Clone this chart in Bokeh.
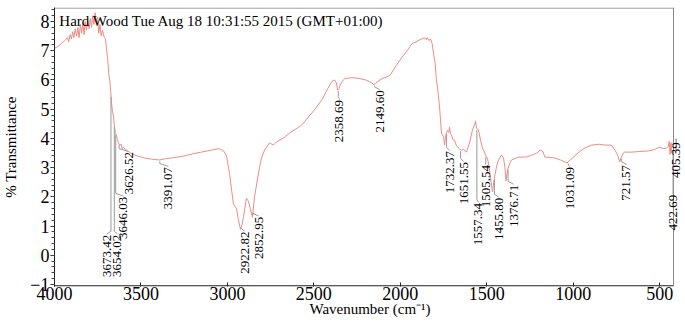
import numpy as np
from bokeh.plotting import figure
from bokeh.models import Range1d, FixedTicker, ColumnDataSource, LabelSet, Label
from bokeh.embed import file_html
from bokeh.resources import INLINE

# ---- spectrum (wavenumber cm-1, % transmittance) ----
wavenumber = [
    4000, 3980, 3960, 3940, 3925, 3918, 3910, 3902, 3895, 3888, 3880, 3872, 3865, 3858,
    3850, 3843, 3836, 3829, 3822, 3815, 3808, 3800, 3793, 3786, 3779, 3772, 3765, 3758,
    3751, 3744, 3737, 3730, 3722, 3712, 3705, 3698, 3692, 3686, 3680, 3675, 3670, 3665,
    3659, 3653, 3648, 3641, 3636, 3630, 3622, 3615, 3608, 3601, 3590, 3580, 3572, 3560,
    3537, 3510, 3479, 3440, 3393, 3360, 3323, 3250, 3200, 3150, 3092, 3050, 3023, 3005,
    2988, 2975, 2965, 2947, 2938, 2925, 2915, 2907, 2890, 2878, 2868, 2855, 2843, 2820,
    2803, 2785, 2757, 2734, 2716, 2676, 2641, 2571, 2550, 2500, 2450, 2420, 2395, 2380,
    2370, 2362, 2355, 2348, 2330, 2319, 2280, 2238, 2200, 2170, 2155, 2145, 2130, 2105,
    2080, 2059, 2030, 1990, 1960, 1932, 1910, 1886, 1870, 1860, 1850, 1845, 1835, 1825,
    1816, 1808, 1799, 1791, 1782, 1773, 1762, 1750, 1744, 1738, 1727, 1720, 1715, 1710,
    1704, 1695, 1687, 1675, 1664, 1655, 1646, 1635, 1617, 1600, 1583, 1571, 1565, 1559,
    1548, 1536, 1525, 1513, 1505, 1495, 1484, 1475, 1467, 1455, 1443, 1432, 1415, 1403,
    1395, 1389, 1380, 1366, 1357, 1316, 1270, 1239, 1210, 1192, 1175, 1164, 1140, 1106,
    1070, 1036, 1000, 967, 930, 892, 850, 817, 779, 759, 745, 731, 722, 710,
    702, 660, 621, 564, 530, 501, 480, 461, 450, 445, 440, 435, 430, 425, 420,
]
transmittance = [
    7.08, 7.15, 7.25, 7.35, 7.45, 7.30, 7.55, 7.40, 7.65, 7.45, 7.75, 7.50, 7.80, 7.45,
    7.90, 7.60, 7.95, 7.55, 8.00, 7.70, 8.05, 7.75, 8.10, 7.80, 8.20, 7.90, 8.30, 7.95,
    8.15, 7.60, 7.90, 7.50, 7.70, 7.45, 7.40, 7.00, 6.70, 6.20, 5.95, 5.60, 5.20, 4.95,
    4.75, 4.40, 4.20, 4.10, 3.95, 3.85, 3.75, 3.80, 3.65, 3.70, 3.62, 3.58, 3.55, 3.50,
    3.43, 3.38, 3.33, 3.29, 3.26, 3.30, 3.33, 3.40, 3.47, 3.53, 3.60, 3.65, 3.58, 3.40,
    2.80, 2.20, 1.75, 1.60, 1.25, 0.90, 1.05, 1.32, 1.95, 1.85, 1.60, 1.30, 2.00, 2.82,
    3.33, 3.60, 3.84, 3.77, 3.88, 4.01, 4.18, 4.45, 4.60, 4.95, 5.35, 5.70, 5.95, 6.00,
    5.90, 5.65, 5.70, 5.82, 6.00, 6.05, 6.08, 6.05, 6.00, 5.92, 5.85, 5.87, 5.95, 6.05,
    6.10, 6.16, 6.44, 6.78, 7.00, 7.25, 7.30, 7.38, 7.42, 7.45, 7.38, 7.45, 7.35, 7.40,
    7.25, 6.90, 6.60, 6.00, 5.60, 5.07, 4.18, 4.05, 3.77, 4.10, 4.28, 4.20, 4.39, 4.15,
    4.11, 3.95, 3.94, 3.75, 3.67, 3.62, 3.60, 3.62, 3.53, 3.84, 4.28, 4.45, 4.60, 4.35,
    4.28, 3.94, 3.67, 3.53, 3.40, 3.30, 2.92, 2.50, 2.17, 2.68, 3.05, 3.26, 3.43, 3.33,
    3.00, 2.55, 2.92, 3.16, 3.26, 3.36, 3.36, 3.43, 3.50, 3.60, 3.55, 3.36, 3.35, 3.33,
    3.25, 3.16, 3.35, 3.53, 3.68, 3.77, 3.80, 3.77, 3.77, 3.60, 3.45, 3.20, 3.35, 3.50,
    3.53, 3.53, 3.55, 3.57, 3.62, 3.70, 3.65, 3.67, 3.72, 3.90, 3.45, 3.85, 3.50, 3.60, 3.53,
]

# ---- peak annotations ----
peak_wn = [3673.42, 3654.02, 3646.03, 3626.52, 3391.07, 2922.82, 2852.95, 2358.69,
           2149.60, 1732.37, 1651.55, 1557.34, 1505.54, 1455.80, 1376.71, 1031.09,
           721.57, 422.69, 405.39]
# where each label sits (wavenumber of label centre, % transmittance of its top end)
label_wn = [3699, 3636, 3601, 3572, 3341, 2901, 2820, 2352,
            2120, 1715, 1634, 1548, 1507, 1432, 1345, 1021,
            692, 423, 403]
label_top = [0.70, 0.70, 2.00, 3.53, 3.02, 0.81, 1.32, 5.31,
             5.65, 3.57, 3.19, 1.79, 3.09, 1.97, 2.41, 3.02,
             3.09, 2.07, 3.87]

x_ticks = [4000, 3500, 3000, 2500, 2000, 1500, 1000, 500]
y_ticks = [-1, 0, 1, 2, 3, 4, 5, 6, 7, 8]

X_START, X_END = 4000, 420      # drawn spectrum window (boxed area)
Y_START, Y_END = -1.07, 8.48

SERIF = "Liberation Serif"

# the frame runs a little past the boxed area so the right-most labels can show
p = figure(frame_width=631, frame_height=279, output_backend="svg",
           toolbar_location=None, x_range=Range1d(X_START, 350.7),
           y_range=Range1d(Y_START, Y_END),
           min_border_left=45, min_border_right=0, min_border_top=7,
           min_border_bottom=26)
p.background_fill_color = "white"
p.border_fill_color = "white"
p.outline_line_color = None
p.xgrid.visible = False
p.ygrid.visible = False

p.xaxis.ticker = FixedTicker(ticks=x_ticks)
p.yaxis.ticker = FixedTicker(ticks=y_ticks,
                             minor_ticks=list(np.round(np.arange(-1, 8.45, 0.2), 2)))
for ax in (p.xaxis, p.yaxis):
    ax.axis_line_color = "#222222"
    ax.major_tick_line_color = "#222222"
    ax.minor_tick_line_color = "#444444"
    ax.major_label_text_font = SERIF
    ax.major_label_text_font_size = "18px"
    ax.major_label_text_color = "black"
    ax.axis_label_text_font = SERIF
    ax.axis_label_text_font_style = "normal"
    ax.axis_label_text_color = "black"
    ax.axis_label_text_font_size = "15px"

p.xaxis.axis_line_color = None
p.xaxis.major_tick_out = 0
p.xaxis.major_tick_in = 4
p.xaxis.minor_tick_out = 0
p.xaxis.minor_tick_in = 0
p.xaxis.major_label_standoff = 0
p.xaxis.axis_label = "Wavenumber (cm\u207b\u00b9)"
p.xaxis.axis_label_standoff = -2

p.yaxis.major_tick_out = 4
p.yaxis.major_tick_in = 0
p.yaxis.minor_tick_out = 3
p.yaxis.minor_tick_in = 0
p.yaxis.major_label_standoff = 1
p.yaxis.axis_label = "% Transmittance"
p.yaxis.axis_label_standoff = 8

# box around the spectrum area: bottom axis line, top and right borders
p.line([X_START, X_END], [Y_START + 0.02, Y_START + 0.02], line_color="#222222", line_width=1.2)
p.line([X_START, X_END], [Y_END - 0.02, Y_END - 0.02], line_color="#8a8a8a", line_width=1)
p.line([X_END, X_END], [Y_START, Y_END], line_color="#8a8a8a", line_width=1)

# spectrum
p.line(wavenumber, transmittance, line_color="#ea8d85", line_width=1)

# leader lines
curve_at_peak = np.interp(peak_wn, wavenumber[::-1], transmittance[::-1])
xs, ys = [], []
for pk, cy, lx, lt in zip(peak_wn, curve_at_peak, label_wn, label_top):
    xs.append([pk, pk, lx])
    ys.append([cy - 0.05, lt + 0.12, lt + 0.02])
p.multi_line(xs, ys, line_color="#9a9a9a", line_width=1)

src = ColumnDataSource(dict(x=label_wn, y=label_top,
                            t=["%.2f" % v for v in peak_wn]))
p.add_layout(LabelSet(x="x", y="y", text="t", source=src, angle=np.pi / 2,
                      text_align="right", text_baseline="middle",
                      text_font=SERIF, text_font_size="13px", text_color="black"))

p.add_layout(Label(x=3972, y=8.03, text="Hard Wood Tue Aug 18 10:31:55 2015 (GMT+01:00)",
                   text_font=SERIF, text_font_size="15px", text_color="black",
                   text_baseline="alphabetic", text_align="left"))

open("out.html", "w").write(file_html(p, INLINE))
